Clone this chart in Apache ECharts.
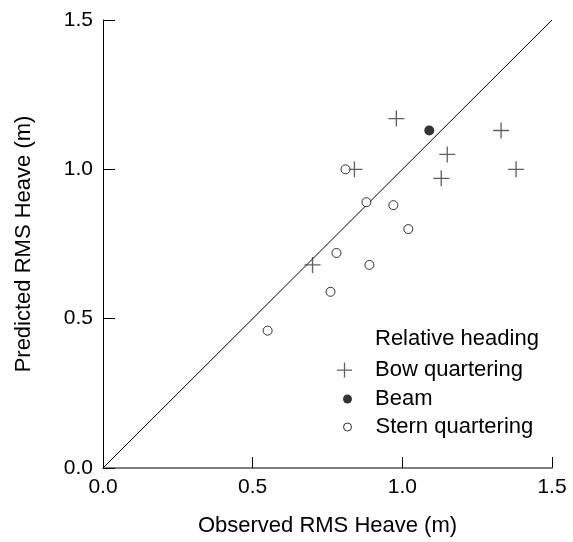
<!DOCTYPE html>
<html>
<head>
<meta charset="utf-8">
<style>
  html, body { margin: 0; padding: 0; background: #fff; }
  #chart { width: 573px; height: 542px; }
</style>
<script src="https://cdn.jsdelivr.net/npm/echarts@6/dist/echarts.min.js"></script>
</head>
<body>
<div id="chart"></div>
<script>
// Observed vs. predicted RMS heave, grouped by relative heading
const bowObserved   = [0.98, 1.33, 1.15, 1.38, 1.13, 0.84, 0.70];
const bowPredicted  = [1.17, 1.13, 1.05, 1.00, 0.97, 1.00, 0.68];
const beamObserved  = [1.09];
const beamPredicted = [1.13];
const sternObserved  = [0.81, 0.88, 0.97, 1.02, 0.78, 0.89, 0.76, 0.55];
const sternPredicted = [1.00, 0.89, 0.88, 0.80, 0.72, 0.68, 0.59, 0.46];

// Axis range shared by both axes, and the 1:1 reference line across it
const axisMin = 0, axisMax = 1.5, axisStep = 0.5;
const parityLine = [[axisMin, axisMin], [axisMax, axisMax]];

const FONT = 'Liberation Sans';
const CROSS = 'path://M11,0h2v24h-2zM0,11h24v2h-24z';

const pairs = (xs, ys) => xs.map((x, i) => [x, ys[i]]);

const chart = echarts.init(document.getElementById('chart'), null, { renderer: 'canvas' });

const axisCommon = {
  type: 'value',
  min: axisMin,
  max: axisMax,
  interval: axisStep,
  splitLine: { show: false },
  nameLocation: 'middle',
  nameTextStyle: { fontFamily: FONT, fontSize: 22, color: '#000' },
  axisLabel: {
    fontFamily: FONT, fontSize: 21, color: '#000',
    formatter: v => v.toFixed(1)
  },
  axisTick: { show: true, inside: true, lineStyle: { color: '#000', width: 1 } }
};

const legendText = pad => ({ fontFamily: FONT, fontSize: 22, color: '#000', padding: [0, 0, 0, pad] });

chart.setOption({
  animation: false,
  backgroundColor: '#fff',
  grid: { left: 103, right: 21, top: 20, bottom: 71, containLabel: false },
  title: {
    text: 'Relative heading',
    left: 375,
    top: 328,
    padding: 0,
    textStyle: { fontFamily: FONT, fontSize: 22, fontWeight: 'normal', color: '#000' }
  },
  xAxis: Object.assign({}, axisCommon, {
    name: 'Observed RMS Heave (m)',
    nameGap: 47,
    axisLine: { show: true, onZero: false, lineStyle: { color: '#555', width: 1.5 } },
    axisTick: Object.assign({}, axisCommon.axisTick, { length: 11 }),
    axisLabel: Object.assign({}, axisCommon.axisLabel, { margin: 9 })
  }),
  yAxis: Object.assign({}, axisCommon, {
    name: 'Predicted RMS Heave (m)',
    nameGap: 68,
    axisLine: { show: true, onZero: false, lineStyle: { color: '#000', width: 1 } },
    axisTick: Object.assign({}, axisCommon.axisTick, { length: 12 }),
    axisLabel: Object.assign({}, axisCommon.axisLabel, { margin: 10 })
  }),
  legend: [
    {
      data: [{ name: 'Bow quartering', icon: CROSS }],
      left: 337, top: 359, padding: 0,
      itemWidth: 15, itemHeight: 15,
      textStyle: legendText(18)
    },
    {
      data: [{ name: 'Beam', icon: 'circle' }],
      left: 343, top: 388, padding: 0,
      itemWidth: 9, itemHeight: 9,
      textStyle: legendText(18)
    },
    {
      data: [{ name: 'Stern quartering', icon: 'circle' }],
      left: 343, top: 416, padding: 0,
      itemWidth: 8, itemHeight: 8,
      itemStyle: { color: '#fff', borderColor: '#000', borderWidth: 1 },
      textStyle: legendText(19)
    }
  ],
  series: [
    {
      name: 'parity',
      type: 'line',
      data: parityLine,
      showSymbol: false,
      symbol: 'none',
      silent: true,
      lineStyle: { color: '#000', width: 1 },
      z: 1
    },
    {
      name: 'Bow quartering',
      type: 'scatter',
      data: pairs(bowObserved, bowPredicted),
      symbol: CROSS,
      symbolSize: 16,
      itemStyle: { color: '#3a3a3a' },
      z: 3
    },
    {
      name: 'Beam',
      type: 'scatter',
      data: pairs(beamObserved, beamPredicted),
      symbol: 'circle',
      symbolSize: 10,
      itemStyle: { color: '#000' },
      z: 3
    },
    {
      name: 'Stern quartering',
      type: 'scatter',
      data: pairs(sternObserved, sternPredicted),
      symbol: 'circle',
      symbolSize: 9,
      itemStyle: { color: '#fff', borderColor: '#000', borderWidth: 1 },
      z: 3
    }
  ]
});
</script>
</body>
</html>
